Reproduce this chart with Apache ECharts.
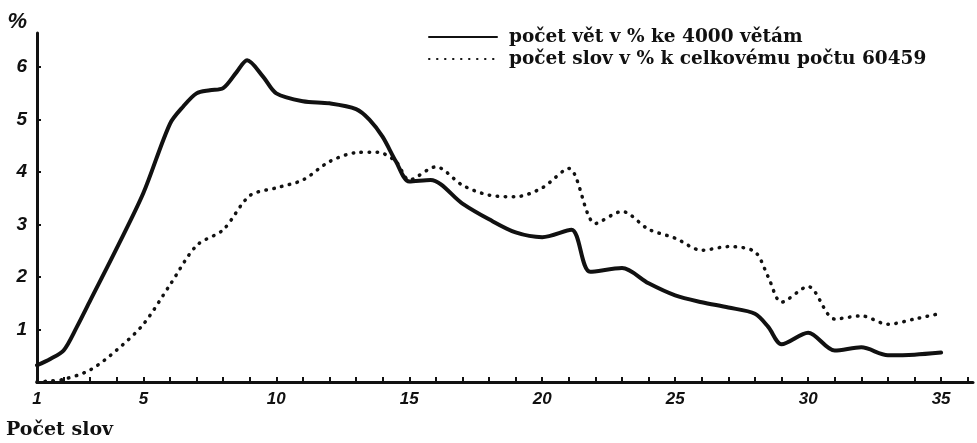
<!DOCTYPE html>
<html>
<head>
<meta charset="utf-8">
<script src="https://cdn.jsdelivr.net/npm/echarts@6/dist/echarts.min.js"></script>
<style>
  html, body { margin: 0; padding: 0; background: #fff; }
  #chart { width: 977px; height: 443px; }
</style>
</head>
<body>
<div id="chart"></div>
<script>
// počet slov ve větě (x) a procenta
const sentX = [1, 1.5, 2, 2.5, 3, 4, 5, 6, 6.5, 7, 7.5, 8, 8.5, 8.9, 9.5, 10, 11, 12, 13, 13.5, 14, 14.5, 15, 15.8, 17, 18, 19, 20, 21.1, 21.8, 23, 24, 25, 26, 27, 28, 28.5, 29, 30, 31, 32, 33, 34, 35]
const sentPct = [0.32, 0.44, 0.6, 1.05, 1.55, 2.55, 3.6, 4.92, 5.25, 5.5, 5.56, 5.6, 5.9, 6.13, 5.82, 5.5, 5.35, 5.31, 5.2, 5.0, 4.67, 4.2, 3.82, 3.85, 3.4, 3.1, 2.85, 2.76, 2.9, 2.1, 2.17, 1.88, 1.65, 1.52, 1.42, 1.3, 1.05, 0.72, 0.94, 0.6, 0.66, 0.51, 0.52, 0.56]

const wordX = [1, 1.5, 2, 3, 4, 5, 6, 7, 8, 9, 10, 11, 12, 13, 13.8, 14.5, 15, 16, 17, 18, 19, 20, 21, 22, 23, 24, 25, 26, 27, 28, 28.5, 29, 30, 31, 32, 33, 34, 35]
const wordPct = [0.0, 0.02, 0.05, 0.23, 0.61, 1.1, 1.85, 2.6, 2.9, 3.55, 3.7, 3.85, 4.2, 4.37, 4.38, 4.2, 3.85, 4.1, 3.75, 3.56, 3.53, 3.7, 4.07, 3.02, 3.25, 2.91, 2.74, 2.51, 2.58, 2.48, 2.0, 1.52, 1.82, 1.2, 1.26, 1.1, 1.2, 1.31]

const xLabels = [1, 5, 10, 15, 20, 25, 30, 35]
const yLabels = [1, 2, 3, 4, 5, 6]

const seriesNames = ['počet vět v % ke 4000 větám', 'počet slov v % k celkovému počtu 60459']

const ink = '#111'
const serif = 'DejaVu Serif'
const hand = 'Liberation Sans'

const chart = echarts.init(document.getElementById('chart'), null, { renderer: 'canvas' })

chart.setOption({
  animation: false,
  backgroundColor: '#fff',
  title: {
    text: 'Počet slov',
    left: 1,
    top: 416,
    textStyle: { fontFamily: serif, fontSize: 19, fontWeight: 'bold', color: ink }
  },
  legend: {
    orient: 'vertical',
    left: 423,
    top: 22,
    itemWidth: 68,
    itemHeight: 14,
    itemGap: 2,
    itemStyle: { opacity: 0 },
    textStyle: { fontFamily: serif, fontSize: 18.5, fontWeight: 'bold', color: ink, lineHeight: 20, padding: [0, 0, 0, 7] },
    data: seriesNames
  },
  grid: { left: 37, right: 4, top: 33, bottom: 61, containLabel: false },
  xAxis: {
    type: 'value',
    min: 1,
    max: 36.2,
    interval: 1,
    splitLine: { show: false },
    axisLine: { lineStyle: { color: ink, width: 3 } },
    axisTick: { inside: true, length: 5, lineStyle: { color: ink, width: 2 } },
    axisLabel: {
      margin: 9,
      showMaxLabel: false,
      fontFamily: hand,
      fontStyle: 'italic',
      fontWeight: 'bold',
      fontSize: 17,
      color: ink,
      formatter: v => (xLabels.includes(v) ? String(v) : '')
    }
  },
  yAxis: {
    type: 'value',
    min: 0,
    max: 6.65,
    interval: 1,
    name: '%',
    nameLocation: 'end',
    nameGap: 0,
    nameTextStyle: {
      fontFamily: hand, fontStyle: 'italic', fontWeight: 'bold', fontSize: 22, color: ink,
      align: 'right', verticalAlign: 'bottom', padding: [0, 10, 0, 0]
    },
    splitLine: { show: false },
    axisLine: { show: true, lineStyle: { color: ink, width: 3 } },
    axisTick: { show: true, inside: true, length: 4, lineStyle: { color: ink, width: 2 } },
    axisLabel: {
      margin: 10,
      showMaxLabel: false,
      fontFamily: hand,
      fontStyle: 'italic',
      fontWeight: 'bold',
      fontSize: 19,
      color: ink,
      formatter: v => (yLabels.includes(v) ? String(v) : '')
    }
  },
  series: [
    {
      name: seriesNames[0],
      type: 'line',
      smooth: 0.3,
      symbol: 'none',
      lineStyle: { color: ink, width: 4, cap: 'round', join: 'round' },
      itemStyle: { color: ink },
      data: sentX.map((x, i) => [x, sentPct[i]])
    },
    {
      name: seriesNames[1],
      type: 'line',
      smooth: 0.3,
      symbol: 'none',
      lineStyle: { color: ink, width: 3.5, type: [0.5, 7.5], cap: 'round' },
      itemStyle: { color: ink },
      data: wordX.map((x, i) => [x, wordPct[i]])
    }
  ]
})
</script>
</body>
</html>
